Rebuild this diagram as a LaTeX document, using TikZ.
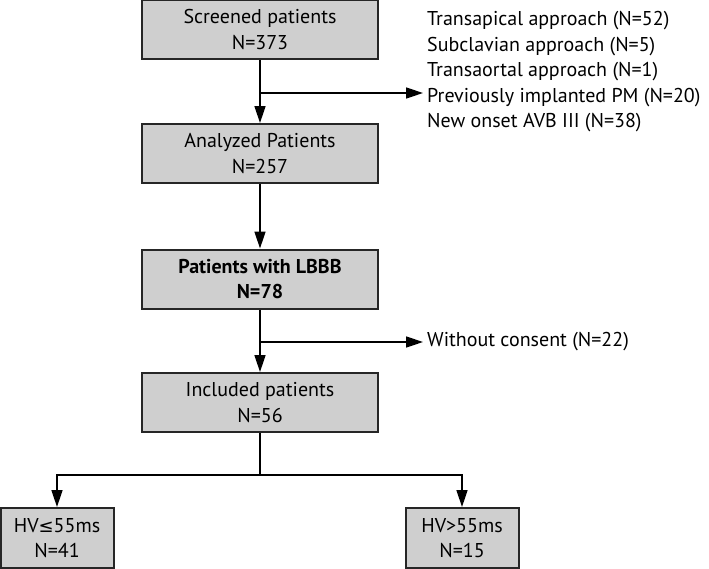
\documentclass[tikz,border=0pt]{standalone}
\usepackage{fontspec}
\setmainfont{PT Sans}
\newfontfamily\symfont{DejaVu Sans}
\usetikzlibrary{arrows.meta}
\begin{document}
\begin{tikzpicture}[x=1pt,y=-1pt,
  font=\fontsize{20}{25.5}\selectfont,
  box/.style={draw=black!85,line width=2pt,fill=black!19,align=center,inner sep=0pt},
  bigbox/.style={box,minimum width=236pt,minimum height=59pt},
  smallbox/.style={box,minimum width=113pt,minimum height=60pt},
  conn/.style={line width=1.5pt,draw=black},
  arr/.style={conn,-{Triangle[length=17pt,width=11pt]}},
  sidetext/.style={align=left,inner sep=0pt,anchor=west}]
\useasboundingbox (0,0) rectangle (709,568);
\node[bigbox] (b1) at (260,29.5) {Screened patients\\N=373};
\node[bigbox] (b2) at (260,153.5) {Analyzed Patients\\N=257};
\node[bigbox] (b3) at (260,279) {\bfseries Patients with LBBB\\\bfseries N=78};
\node[bigbox] (b4) at (260,402.5) {Included patients\\N=56};
\node[smallbox] (l) at (57,538) {HV{\symfont\fontsize{18}{25.5}\selectfont ≤}55ms\\N=41};
\node[smallbox] (r) at (462,538) {HV>55ms\\N=15};
\node[sidetext] (ex1) at (427,72) {Transapical approach (N=52)\\Subclavian approach (N=5)\\Transaortal approach (N=1)\\Previously implanted PM (N=20)\\New onset AVB III (N=38)};
\node[sidetext] (ex2) at (427,342) {Without consent (N=22)};
\coordinate (s1) at (260,93);
\coordinate (e1) at (423,93);
\coordinate (s2) at (260,342);
\coordinate (e2) at (423,342);
\coordinate (br) at (260,475);
\draw[arr] (b1.south) -- (b2.north);
\draw[arr] (s1) -- (e1);
\draw[arr] (b2.south) -- (b3.north);
\draw[arr] (b3.south) -- (b4.north);
\draw[arr] (s2) -- (e2);
\draw[conn] (b4.south) -- (br);
\draw[arr] (br) -| (l.north);
\draw[arr] (br) -| (r.north);
\end{tikzpicture}
\end{document}
